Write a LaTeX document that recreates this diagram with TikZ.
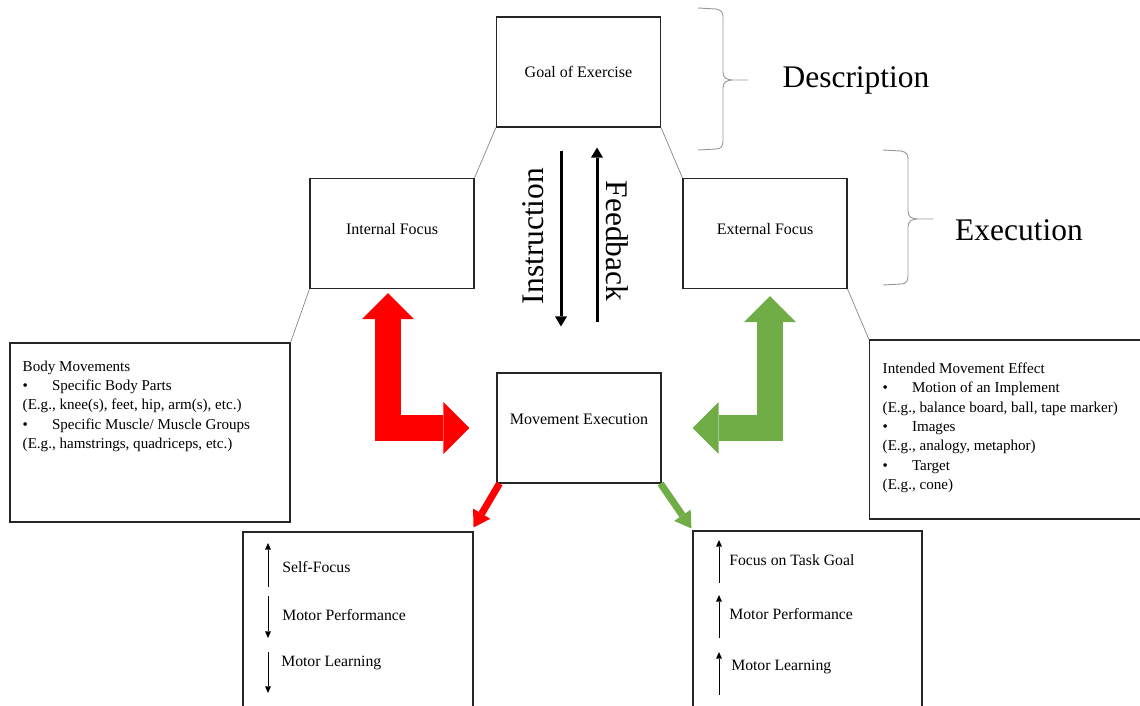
\documentclass[tikz,border=0pt]{standalone}
\usepackage{fontspec}
\setmainfont{Liberation Serif}
\usetikzlibrary{arrows.meta,calc}
\definecolor{focusgreen}{RGB}{112,173,71}
\begin{document}
\begin{tikzpicture}[x=0.75pt,y=-0.75pt,
    fattip/.tip={Triangle[length=19.5pt,width=39pt,line width=0pt]},
    pointtip/.tip={Triangle[length=12pt,width=15pt,line width=0pt]},
    focusbox/.style={draw=black!85,line width=0.8pt,minimum width=123pt,minimum height=82.5pt,inner sep=0pt,font=\fontsize{12}{14}\selectfont},
    listbox/.style={draw=black!85,line width=0.8pt,inner sep=0pt},
    listtext/.style={align=left,anchor=north west,inner sep=0pt,font=\fontsize{11.3}{14.5}\selectfont},
    itemtext/.style={anchor=west,inner sep=0pt,font=\fontsize{11.8}{14}\selectfont},
    bigtext/.style={inner sep=0pt,font=\fontsize{23.6}{28}\selectfont},
    linkline/.style={draw=gray,line width=0.5pt},
    bracket/.style={draw=gray!80,line width=0.7pt},
    flowarrow/.style={line width=2.25pt,-{Triangle[length=7.5pt,width=9pt,line width=0pt]}},
    tinyarrow/.style={line width=0.6pt,-{Triangle[length=5pt,width=4.5pt,line width=0pt]}},
    redfat/.style={draw=red,line width=19.5pt,line join=miter,fattip-fattip},
    greenfat/.style={draw=focusgreen,line width=19.5pt,line join=miter,fattip-fattip},
    redpointer/.style={draw=red,line width=5.25pt,-pointtip},
    greenpointer/.style={draw=focusgreen,line width=5.25pt,-pointtip}]
   \useasboundingbox (0,0) rectangle (1140,706);
   \clip (0,0) rectangle (1140,706);
   % main boxes
   \node[focusbox] (goal)     at (578.5,72)  {Goal of Exercise};
   \node[focusbox,text depth=7pt] (internal) at (392,233.5) {Internal Focus};
   \node[focusbox,text depth=7pt] (external) at (765,233.5) {External Focus};
   \node[focusbox,text depth=13pt] (movement) at (579,428)   {Movement Execution};
   \node[listbox,minimum width=210pt,minimum height=134.25pt] (body) at (150,432.5) {};
   \node[listbox,minimum width=217.5pt,minimum height=134.25pt] (intended) at (1014.5,429.5) {};
   \node[listbox,minimum width=172.5pt,minimum height=150pt] (selfbox) at (358,632) {};
   \node[listbox,minimum width=171.75pt,minimum height=150pt] (taskbox) at (807.5,631) {};
   % list texts
   \node[listtext] (bodytext) at ($(body.north west)+(13,18)$) {Body Movements\\
      \makebox[22pt][l]{•}Specific Body Parts\\
      (E.g., knee(s), feet, hip, arm(s), etc.)\\
      \makebox[22pt][l]{•}Specific Muscle/ Muscle Groups\\
      (E.g., hamstrings, quadriceps, etc.)};
   \node[listtext] (intendedtext) at ($(intended.north west)+(13.5,23)$) {Intended Movement Effect\\
      \makebox[22pt][l]{•}Motion of an Implement\\
      (E.g., balance board, ball, tape marker)\\
      \makebox[22pt][l]{•}Images\\
      (E.g., analogy, metaphor)\\
      \makebox[22pt][l]{•}Target\\
      (E.g., cone)};
   \node[itemtext] (selffocus) at (282,567) {Self-Focus};
   \node[itemtext] (selfperf)  at (282,615) {Motor Performance};
   \node[itemtext] (selflearn) at (281,663) {Motor Learning};
   \node[itemtext] (taskgoal)  at (729,560) {Focus on Task Goal};
   \node[itemtext] (taskperf)  at (729,614) {Motor Performance};
   \node[itemtext] (tasklearn) at (731,667) {Motor Learning};
   \foreach \ya/\yb in {587/543,596/638,652/693}
      \draw[tinyarrow] (268,\ya) -- (268,\yb);
   \foreach \ya/\yb in {583/540,638/595,695/652}
      \draw[tinyarrow] (719,\ya) -- (719,\yb);
   % thin links between boxes
   \draw[linkline] (goal.south west) -- (internal.north east);
   \draw[linkline] (goal.south east) -- (external.north west);
   \draw[linkline] (internal.south west) -- (body.north east);
   \draw[linkline] (external.south east) -- (intended.north west);
   % instruction and feedback
   \draw[flowarrow] ($(goal.south)+(-17.5,23)$) -- ($(movement.north)+(-18,-46)$);
   \draw[flowarrow] ($(movement.north)+(18,-50)$) -- ($(goal.south)+(18.5,20)$);
   \node[bigtext,rotate=90]  (instruction) at (533,236) {Instruction};
   \node[bigtext,rotate=-90] (feedback)    at (617,241) {Feedback};
   % fat L arrows
   \draw[redfat] ($(internal.south)+(-4,4)$) |- ($(movement.west)+(-27,0)$);
   \draw[greenfat] ($(external.south)+(5,7)$) |- ($(movement.east)+(31,0)$);
   \draw[redpointer] ($(movement.south west)+(3,0)$) -- ($(selfbox.north east)+(0,-4)$);
   \draw[greenpointer] ($(movement.south east)+(-1,0)$) -- ($(taskbox.north west)+(-1,-2)$);
   % braces and headings
   \foreach \bx/\ba/\bm/\bb in {698/8/80/150,883/150/219/285}
      \draw[bracket] (\bx,\ba) -- (\bx+18,\ba+1) .. controls (\bx+23,\ba+2) and (\bx+25,\ba+4) .. (\bx+25,\ba+9)
         -- (\bx+25,\bm-8) .. controls (\bx+25,\bm-2) and (\bx+29,\bm) .. (\bx+35,\bm) -- (\bx+50,\bm)
         -- (\bx+35,\bm) .. controls (\bx+29,\bm) and (\bx+25,\bm+2) .. (\bx+25,\bm+8)
         -- (\bx+25,\bb-9) .. controls (\bx+25,\bb-4) and (\bx+23,\bb-1) .. (\bx+18,\bb-1) -- (\bx,\bb);
   \node[bigtext] (description) at (856,80)  {Description};
   \node[bigtext] (execution)   at (1019,230) {Execution};
\end{tikzpicture}
\end{document}
